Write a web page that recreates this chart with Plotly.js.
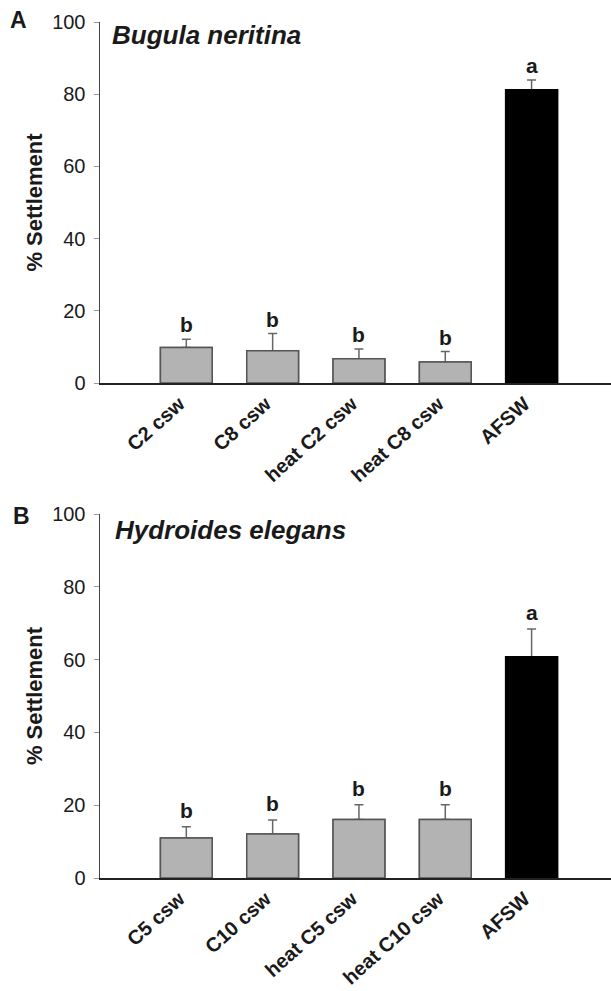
<!DOCTYPE html>
<html><head><meta charset="utf-8">
<script src="https://cdn.plot.ly/plotly-3.0.1.min.js"></script>
<style>html,body{margin:0;padding:0;background:#fff}#chart{width:611px;height:991px}</style>
</head><body><div id="chart"></div>
<script>
// Panel A: Bugula neritina
const catsA = ['C2 csw', 'C8 csw', 'heat C2 csw', 'heat C8 csw', 'AFSW'];
const valsA = [9.8, 8.9, 6.7, 5.8, 81.2];
const errA = [2.3, 4.8, 2.7, 2.9, 2.7];
const lettersA = ['b', 'b', 'b', 'b', 'a'];
// Panel B: Hydroides elegans
const catsB = ['C5 csw', 'C10 csw', 'heat C5 csw', 'heat C10 csw', 'AFSW'];
const valsB = [11.0, 12.1, 16.1, 16.1, 60.8];
const errB = [3.1, 3.8, 4.0, 4.0, 7.6];
const lettersB = ['b', 'b', 'b', 'b', 'a'];
const yTicks = [0, 20, 40, 60, 80, 100];

const fillColors = ['#b3b3b3', '#b3b3b3', '#b3b3b3', '#b3b3b3', '#000000'];
const lineColors = ['#555555', '#555555', '#555555', '#555555', '#000000'];
const FONT = 'Liberation Sans, Arial, Helvetica, sans-serif';

function barTrace(cats, vals, errs, xa, ya, withErr) {
  const t = {
    type: 'bar', x: cats, y: vals, xaxis: xa, yaxis: ya,
    marker: { color: fillColors, line: { color: lineColors, width: 1.5 } },
    hoverinfo: 'none', showlegend: false
  };
  if (withErr) {
    t.error_y = { type: 'data', symmetric: false, array: errs, arrayminus: errs.map(() => 0),
                  color: '#666666', thickness: 1.5, width: 4.5 };
  }
  return t;
}

// error-bar traces first, then identical bars on top to hide the lower caps
const traces = [
  barTrace(catsA, valsA, errA, 'x', 'y', true),
  barTrace(catsB, valsB, errB, 'x2', 'y2', true),
  barTrace(catsA, valsA, errA, 'x', 'y', false),
  barTrace(catsB, valsB, errB, 'x2', 'y2', false)
];

const annotations = [];
function letterAnns(cats, vals, errs, letters, xr, yr, shift) {
  cats.forEach((c, i) => annotations.push({
    x: c, y: vals[i] + errs[i], xref: xr, yref: yr, text: '<b>' + letters[i] + '</b>',
    showarrow: false, yanchor: 'bottom', yshift: shift,
    font: { family: FONT, size: 21, color: '#1a1a1a' }
  }));
}
letterAnns(catsA, valsA, errA, lettersA, 'x', 'y', 1);
letterAnns(catsB, valsB, errB, lettersB, 'x2', 'y2', 3);

function pxX(px) { return (px - 100) / 511; }
function pxY(py) { return (878 - py) / 856; }
annotations.push(
  { text: '<b>A</b>', xref: 'paper', yref: 'paper', x: pxX(8), y: pxY(20), xanchor: 'left', yanchor: 'middle', showarrow: false, font: { family: FONT, size: 23, color: '#1a1a1a' } },
  { text: '<b>B</b>', xref: 'paper', yref: 'paper', x: pxX(11), y: pxY(516), xanchor: 'left', yanchor: 'middle', showarrow: false, font: { family: FONT, size: 23, color: '#1a1a1a' } },
  { text: '<b><i>Bugula neritina</i></b>', xref: 'paper', yref: 'paper', x: pxX(110), y: pxY(35), xanchor: 'left', yanchor: 'middle', showarrow: false, font: { family: FONT, size: 26, color: '#1a1a1a' } },
  { text: '<b><i>Hydroides elegans</i></b>', xref: 'paper', yref: 'paper', x: pxX(113), y: pxY(530), xanchor: 'left', yanchor: 'middle', showarrow: false, font: { family: FONT, size: 26, color: '#1a1a1a' } }
);

function yAxis(domain) {
  return {
    domain: domain, range: [0, 100], tickvals: yTicks, ticktext: yTicks.map(String),
    showgrid: false, zeroline: false, showline: true, linecolor: '#444444', linewidth: 1.5,
    ticks: 'outside', ticklen: 5, tickcolor: '#999999', tickwidth: 1, ticklabelstandoff: 4,
    tickfont: { family: FONT, size: 20, color: '#1a1a1a' },
    title: { text: '<b>% Settlement</b>', font: { family: FONT, size: 22, color: '#1a1a1a' }, standoff: 3 },
    fixedrange: true
  };
}
function xAxis(anchor) {
  return {
    anchor: anchor, range: [-1, 4.92], showgrid: false, zeroline: false, showline: true,
    linecolor: '#222222', linewidth: 1.5, ticks: '', tickangle: -42, ticklabelshift: -7,
    tickfont: { family: FONT, size: 20, color: '#1a1a1a' }, fixedrange: true
  };
}

const layout = {
  width: 611, height: 991,
  margin: { l: 100, r: 0, t: 22, b: 113 },
  paper_bgcolor: '#ffffff', plot_bgcolor: '#ffffff',
  barmode: 'overlay', bargap: 0.4,
  font: { family: FONT },
  xaxis: Object.assign(xAxis('y'), { tickvals: catsA, ticktext: catsA.map(s => '<b>' + s + '</b>') }),
  yaxis: yAxis([1 - 361 / 856, 1]),
  xaxis2: Object.assign(xAxis('y2'), { tickvals: catsB, ticktext: catsB.map(s => '<b>' + s + '</b>') }),
  yaxis2: yAxis([0, 364 / 856]),
  annotations: annotations
};

Plotly.newPlot('chart', traces, layout, { displayModeBar: false, staticPlot: true });
</script>
</body></html>
